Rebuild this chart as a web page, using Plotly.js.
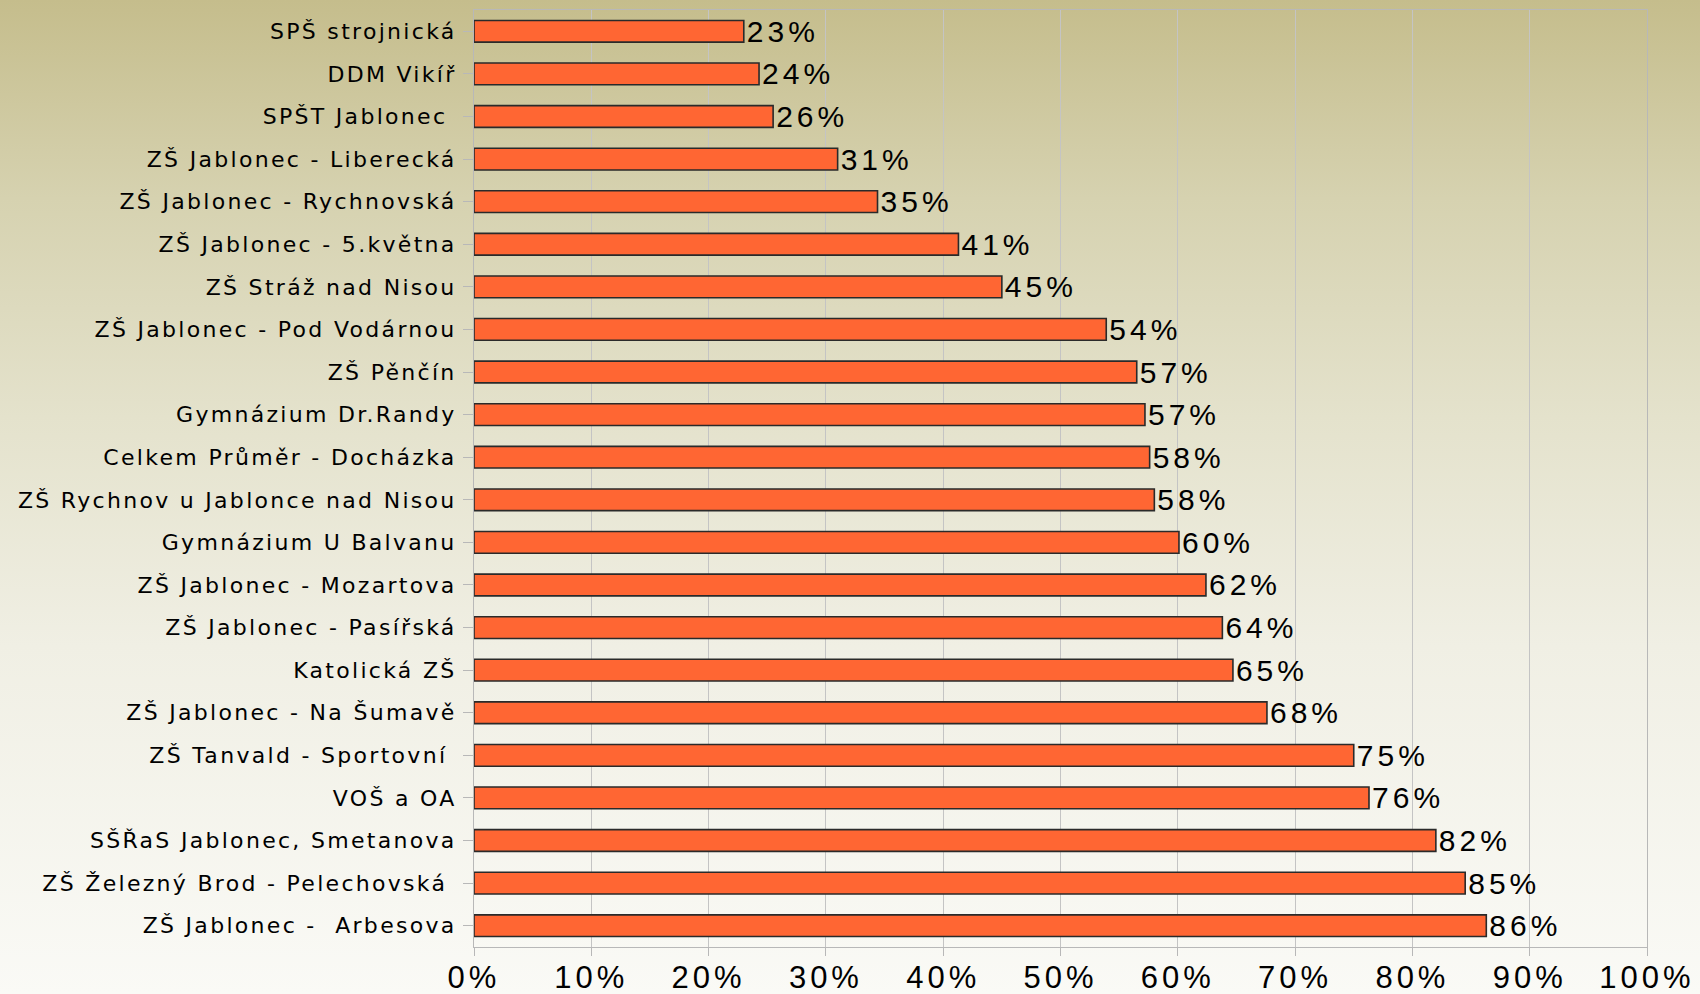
<!DOCTYPE html>
<html>
<head>
<meta charset="utf-8">
<script src="https://cdn.plot.ly/plotly-3.0.1.min.js"></script>
<style>
  html, body { margin: 0; padding: 0; width: 1700px; height: 994px; overflow: hidden; }
  body { background: linear-gradient(to bottom, #c5bd8c 0%, #d6d2b0 20%, #e4e2cc 42%, #f0efe4 65%, #fafaf6 100%); }
  #chart { width: 1700px; height: 994px; }
  .ytick text { letter-spacing: 2.3px; }
  .xtick text { letter-spacing: 4px; }
  text.bartext { letter-spacing: 4px; }
</style>
</head>
<body>
<div id="chart"></div>
<script>
const categories = [
  "SPŠ strojnická",
  "DDM Vikíř",
  "SPŠT Jablonec ",
  "ZŠ Jablonec - Liberecká",
  "ZŠ Jablonec - Rychnovská",
  "ZŠ Jablonec - 5.května",
  "ZŠ Stráž nad Nisou",
  "ZŠ Jablonec - Pod Vodárnou",
  "ZŠ Pěnčín",
  "Gymnázium Dr.Randy",
  "Celkem Průměr - Docházka",
  "ZŠ Rychnov u Jablonce nad Nisou",
  "Gymnázium U Balvanu",
  "ZŠ Jablonec - Mozartova",
  "ZŠ Jablonec - Pasířská",
  "Katolická ZŠ",
  "ZŠ Jablonec - Na Šumavě",
  "ZŠ Tanvald - Sportovní ",
  "VOŠ a OA",
  "SŠŘaS Jablonec, Smetanova",
  "ZŠ Železný Brod - Pelechovská ",
  "ZŠ Jablonec -  Arbesova"
];
const values = [0.23, 0.243, 0.255, 0.31, 0.344, 0.413, 0.45, 0.539, 0.565, 0.572, 0.576, 0.58,
                0.601, 0.624, 0.638, 0.647, 0.676, 0.75, 0.763, 0.82, 0.845, 0.863];
const valueLabels = ["23%", "24%", "26%", "31%", "35%", "41%", "45%", "54%", "57%", "57%", "58%", "58%",
                     "60%", "62%", "64%", "65%", "68%", "75%", "76%", "82%", "85%", "86%"];
const xTickVals = [0, 0.1, 0.2, 0.3, 0.4, 0.5, 0.6, 0.7, 0.8, 0.9, 1.0];
const xTickText = ["0%", "10%", "20%", "30%", "40%", "50%", "60%", "70%", "80%", "90%", "100%"];

const trace = {
  type: "bar",
  orientation: "h",
  x: values,
  y: categories,
  text: valueLabels,
  textposition: "outside",
  constraintext: "none",
  cliponaxis: false,
  textfont: { family: "Liberation Sans, Arial, sans-serif", size: 30, color: "#000000" },
  marker: { color: "#FF6633", line: { color: "#2a2a2a", width: 1.6 } },
  hoverinfo: "none"
};

const layout = {
  width: 1700,
  height: 994,
  paper_bgcolor: "rgba(0,0,0,0)",
  plot_bgcolor: "rgba(0,0,0,0)",
  margin: { l: 474, r: 53, t: 10, b: 47, pad: 0 },
  bargap: 0.49,
  showlegend: false,
  xaxis: {
    range: [0, 1],
    tickvals: xTickVals,
    ticktext: xTickText,
    showgrid: true,
    gridcolor: "#c4c4c4",
    gridwidth: 1,
    zeroline: false,
    showline: true,
    linecolor: "#b8b8b8",
    linewidth: 1,
    mirror: true,
    ticks: "outside",
    ticklen: 8,
    tickcolor: "#b8b8b8",
    ticklabelstandoff: -5,
    tickfont: { family: "Liberation Sans, Arial, sans-serif", size: 31, color: "#000000" },
    fixedrange: true
  },
  yaxis: {
    type: "category",
    autorange: "reversed",
    showgrid: false,
    zeroline: false,
    showline: true,
    linecolor: "#b8b8b8",
    linewidth: 1,
    mirror: true,
    ticks: "outside",
    ticklen: 10,
    tickcolor: "#b8b8b8",
    ticklabelstandoff: 2,
    tickfont: { family: "DejaVu Sans, Verdana, sans-serif", size: 22, color: "#000000" },
    fixedrange: true
  }
};

Plotly.newPlot("chart", [trace], layout, { displayModeBar: false, staticPlot: true });
</script>
</body>
</html>
